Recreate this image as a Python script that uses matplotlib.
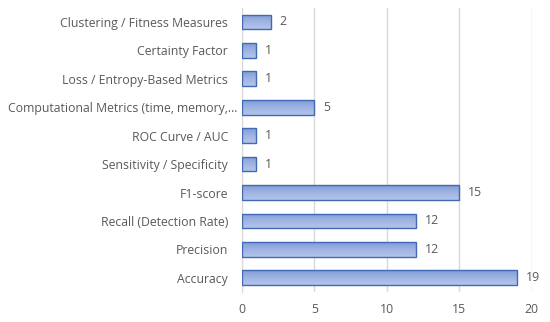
import numpy as np
import matplotlib.pyplot as plt
import matplotlib.transforms as mtransforms
from matplotlib.colors import LinearSegmentedColormap

# datos (de abajo hacia arriba)
categories = ['Accuracy', 'Precision', 'Recall (Detection Rate)', 'F1-score',
              'Sensitivity / Specificity', 'ROC Curve / AUC',
              'Computational Metrics (time, memory,…',
              'Loss / Entropy-Based Metrics', 'Certainty Factor',
              'Clustering / Fitness Measures']
counts = [19, 12, 12, 15, 1, 1, 5, 1, 1, 2]
xticks = [0, 5, 10, 15, 20]

plt.rcParams['font.family'] = ['Open Sans', 'DejaVu Sans']
txtcolor = '#595959'

fig = plt.figure(figsize=(5.5, 3.22), dpi=100)
ax = fig.add_axes([0.44, 0.093, 0.527, 0.883])

y = np.arange(len(categories))
bars = ax.barh(y, counts, height=0.52, facecolor='none',
               edgecolor='#4169b5', linewidth=1.0, zorder=3)

# relleno degradado tipo Excel
cmap = LinearSegmentedColormap.from_list('g', ['#b4c5ea', '#9fb4e2', '#819cd6'])
grad = np.linspace(0, 1, 64).reshape(-1, 1)
for b in bars:
    x0, y0 = b.get_x(), b.get_y()
    w, h = b.get_width(), b.get_height()
    im = ax.imshow(grad, cmap=cmap, aspect='auto', origin='upper',
                   extent=[x0, x0 + w, y0 + h, y0], zorder=2)
    im.set_clip_path(b)

for yi, v in zip(y, counts):
    ax.text(v + 0.6, yi, str(v), va='center', ha='left', fontsize=8.8,
            color=txtcolor)

ax.set_xlim(0, 20)
ax.set_ylim(-0.5, len(categories) - 0.5)
ax.set_xticks(xticks)
ax.set_yticks(y)
ax.set_yticklabels(categories)
ax.tick_params(axis='both', length=0, labelsize=8.8, colors=txtcolor)
ax.tick_params(axis='x', pad=8)
ax.tick_params(axis='y', pad=10)
ax.xaxis.grid(True, color='#d9d9d9', linewidth=1.0, zorder=0)
ax.set_axisbelow(True)
for s in ['top', 'right', 'bottom']:
    ax.spines[s].set_visible(False)
ax.spines['left'].set_color('#d9d9d9')

# la etiqueta larga queda mas pegada al eje
lbl = ax.get_yticklabels()[6]
lbl.set_transform(lbl.get_transform() +
                  mtransforms.ScaledTranslation(7 / 72, 0, fig.dpi_scale_trans))

fig.savefig('out.png', dpi=100)
